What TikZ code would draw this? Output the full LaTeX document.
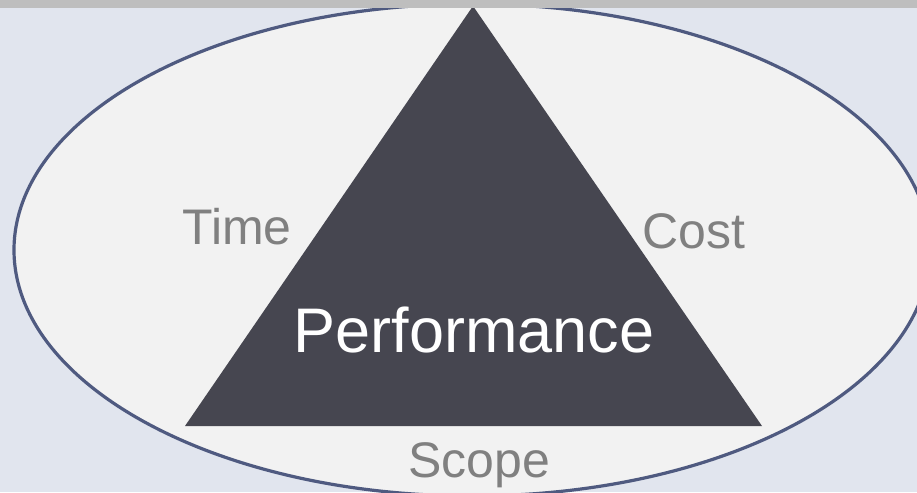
\documentclass[tikz,border=0pt]{standalone}
\usepackage{fontspec}
\setmainfont{Liberation Sans}
\definecolor{bgc}{HTML}{E1E5EE}
\definecolor{barc}{HTML}{BEBEBE}
\definecolor{ellfill}{HTML}{F2F2F2}
\definecolor{ellline}{HTML}{4F5A80}
\definecolor{tri}{HTML}{464650}
\definecolor{lab}{HTML}{808080}
\tikzset{
  sidelabel/.style={text=lab, font=\fontsize{50}{50}\selectfont, anchor=base, inner sep=0pt},
  mainlabel/.style={text=white, font=\fontsize{63}{63}\selectfont, anchor=base, inner sep=0pt}
}
\begin{document}
\begin{tikzpicture}[x=1pt,y=-1pt]
\useasboundingbox (0,0) rectangle (917,492);
\fill[bgc] (0,0) rectangle (917,492);
\begin{scope}
\clip (0,0) rectangle (917,492);
\filldraw[fill=ellfill, draw=ellline, line width=3.2pt] (472,250) ellipse [x radius=458, y radius=246];
\end{scope}
\coordinate (apex) at (473,6);
\coordinate (bl) at (185,426);
\coordinate (br) at (762,426);
\fill[tri] (apex) -- (br) -- (bl) -- cycle;
\fill[barc] (0,0) rectangle (917,8);
\node[sidelabel] (time) at (237,244) {Time};
\node[sidelabel] (cost) at (694,248) {Cost};
\node[sidelabel] (scope) at (479,477) {Scope};
\node[mainlabel] (perf) at (474,352) {Performance};
\end{tikzpicture}
\end{document}
